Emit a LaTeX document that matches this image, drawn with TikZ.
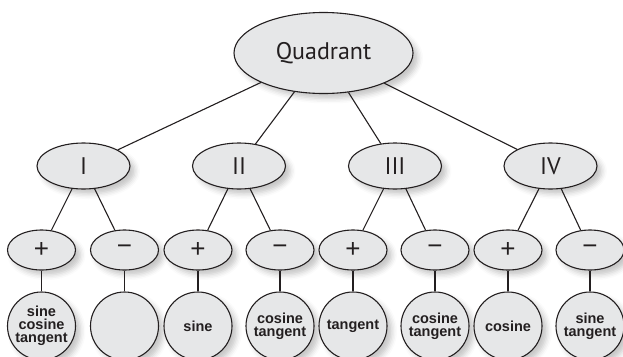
\documentclass[tikz,border=0pt]{standalone}
\usepackage{fontspec}
\setmainfont{PT Sans}
\newfontfamily\circfont{Liberation Sans}
\newfontfamily\signfont{Liberation Sans}
\usepackage{tikz}
\usetikzlibrary{shapes,shadows.blur}
\definecolor{ovalgray}{RGB}{230,231,232}
\definecolor{inkgray}{RGB}{35,31,32}
\tikzset{oval/.style={draw=inkgray,fill=ovalgray,ellipse,inner sep=0pt,
  text=inkgray,line width=1.1pt,
  blur shadow={shadow xshift=5pt,shadow yshift=-5pt,shadow blur radius=5pt,shadow opacity=22}},
  edge/.style={draw=inkgray,line width=1.1pt}}

\begin{document}
\begin{tikzpicture}[x=1pt,y=-1pt,
  rootoval/.style={oval,minimum width=179pt,minimum height=81pt,font=\fontsize{24}{28}\selectfont},
  quadoval/.style={oval,minimum width=93pt,minimum height=46pt,font=\fontsize{24}{28}\selectfont},
  signoval/.style={oval,minimum width=68pt,minimum height=40pt,font=\signfont\fontsize{26}{30}\selectfont},
  trigcircle/.style={oval,circle,minimum size=68pt,align=center,
    font=\circfont\bfseries\fontsize{14.5}{13}\selectfont}]
	\useasboundingbox (0,0) rectangle (623,356);

	\node[rootoval] (Q) at (323.5,53) {Quadrant};

	\node[quadoval] (Q1) at (83.5,166) {I};
	\node[quadoval] (Q2) at (239,166) {II};
	\node[quadoval] (Q3) at (395,166) {III};
	\node[quadoval] (Q4) at (550.5,166) {IV};

	\node[signoval] (P1) at (41.5,250) {+};
	\node[signoval] (M1) at (124.5,250) {−};
	\node[signoval] (P2) at (198,250) {+};
	\node[signoval] (M2) at (280,250) {−};
	\node[signoval] (P3) at (353,250) {+};
	\node[signoval] (M3) at (435,250) {−};
	\node[signoval] (P4) at (508,250) {+};
	\node[signoval] (M4) at (590,250) {−};

	\node[trigcircle] (P1f) at (41.5,326) {sine\\cosine\\tangent};
	\node[trigcircle] (M1f) at (124.5,326) {};
	\node[trigcircle] (P2f) at (198,326) {sine};
	\node[trigcircle] (M2f) at (280,326) {cosine\\tangent};
	\node[trigcircle] (P3f) at (353,326) {tangent};
	\node[trigcircle] (M3f) at (435,326) {cosine\\tangent};
	\node[trigcircle] (P4f) at (508,326) {cosine};
	\node[trigcircle] (M4f) at (590,326) {sine\\tangent};

	% quadrant to its four parts
	\draw[edge] (Q) -- (Q1);
	\draw[edge] (Q) -- (Q2);
	\draw[edge] (Q) -- (Q3);
	\draw[edge] (Q) -- (Q4);

	% signs under each part
	\draw[edge] (Q1) -- (P1);
	\draw[edge] (Q1) -- (M1);
	\draw[edge] (Q2) -- (P2);
	\draw[edge] (Q2) -- (M2);
	\draw[edge] (Q3) -- (P3);
	\draw[edge] (Q3) -- (M3);
	\draw[edge] (Q4) -- (P4);
	\draw[edge] (Q4) -- (M4);

	% functions
	\draw[edge] (P1) -- (P1f);
	\draw[edge] (M1) -- (M1f);
	\draw[edge] (P2) -- (P2f);
	\draw[edge] (M2) -- (M2f);
	\draw[edge] (P3) -- (P3f);
	\draw[edge] (M3) -- (M3f);
	\draw[edge] (P4) -- (P4f);
	\draw[edge] (M4) -- (M4f);
\end{tikzpicture}
\end{document}
